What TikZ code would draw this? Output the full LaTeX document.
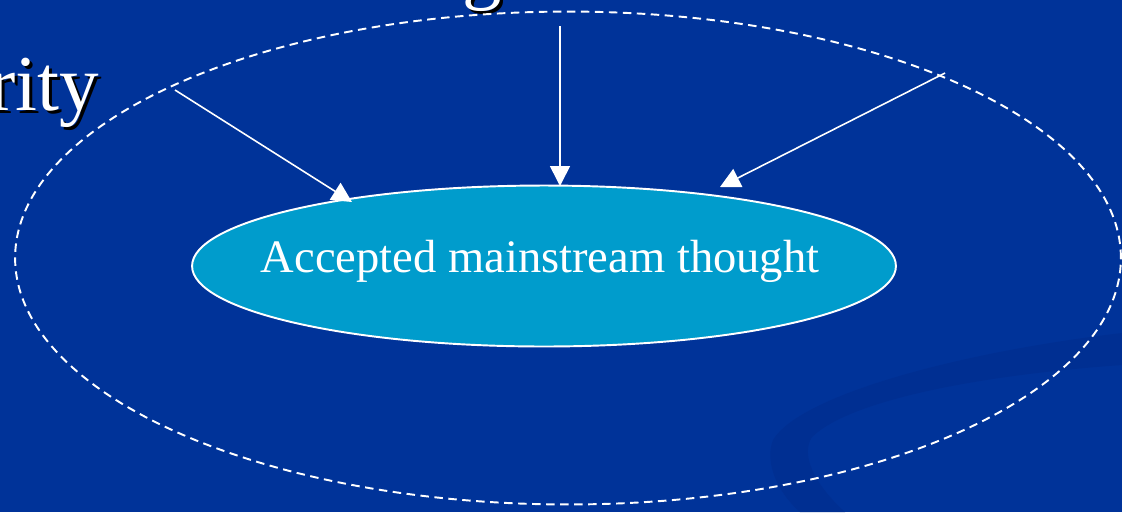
\documentclass[tikz,border=0pt]{standalone}
\usepackage{fontspec}
\setmainfont{Liberation Serif}
\usetikzlibrary{arrows.meta,positioning,shapes.geometric}
\definecolor{slideblue}{RGB}{0,51,153}
\definecolor{swooshblue}{RGB}{0,47,146}
\definecolor{mainfill}{RGB}{0,156,204}
\begin{document}
\begin{tikzpicture}[x=0.02cm,y=-0.02cm,>={Triangle[length=0.4cm,width=0.4cm]}]
\tikzstyle{mainstream}=[ellipse,draw=white,line width=1.1pt,fill=mainfill,inner sep=0pt,minimum width=14.08cm,minimum height=3.22cm]
\tikzstyle{bigtext}=[font=\fontsize{45}{45}\selectfont,inner sep=0pt]
\tikzstyle{link}=[->,draw=white,line width=0.9pt]
\path[use as bounding box,clip] (0,0) rectangle (1122,512);
\fill[slideblue] (0,0) rectangle (1122,512);
% faint swoosh, bottom right
\fill[swooshblue] (1122,333) .. controls (960,352) and (800,395) .. (773,440)
  .. controls (765,460) and (775,490) .. (800,512) -- (845,512)
  .. controls (815,485) and (800,455) .. (812,437)
  .. controls (850,400) and (980,375) .. (1122,365) -- cycle;
% cut-off titles
\node[bigtext,black,anchor=base west] at (-8,113) {rity};
\node[bigtext,white,anchor=base west] (rity) at (-11,110) {rity};
\node[bigtext,black,anchor=base] at (485,-3) {g};
\node[bigtext,white,anchor=base] (gtop) at (482,-6) {g};
% outer circle
\draw[white,line width=1.1pt,dash pattern=on 0.17cm off 0.11cm] (568,258) ellipse [x radius=11.06cm,y radius=4.93cm];
\node[mainstream] (main) at (544,266) {};
\node[font=\fontsize{26.5}{26.5}\selectfont,white,anchor=base] (label) at (540,272) {Accepted mainstream thought};
\coordinate (srcL) at (175,90);
\coordinate (srcM) at (560,26);
\coordinate (srcR) at (945,73);
\coordinate (tipL) at (352,202);
\coordinate (tipM) at (560,186);
\coordinate (tipR) at (720,187);
\draw[link] (srcL)--(tipL); \draw[link] (srcM)--(tipM); \draw[link] (srcR)--(tipR);
\end{tikzpicture}
\end{document}
